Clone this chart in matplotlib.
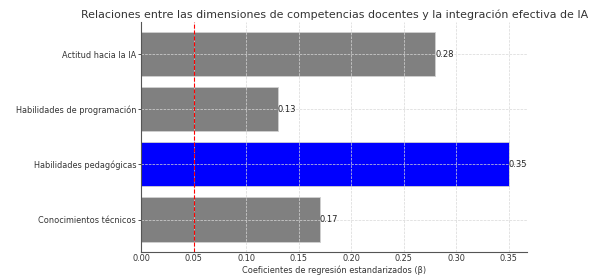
import matplotlib
matplotlib.use("Agg")
import matplotlib.pyplot as plt

categories = ["Conocimientos técnicos", "Habilidades pedagógicas",
              "Habilidades de programación", "Actitud hacia la IA"]
values = [0.17, 0.35, 0.13, 0.28]
colors = ["gray", "blue", "gray", "gray"]
threshold = 0.05
xticks = [0.00, 0.05, 0.10, 0.15, 0.20, 0.25, 0.30, 0.35]

plt.rcParams['font.family'] = ['DejaVu Sans']
fig = plt.figure(figsize=(5.95, 2.78), dpi=100)
ax = fig.add_axes([0.237, 0.0935, 0.649, 0.828])

bars = ax.barh(categories, values, color=colors, edgecolor="#d0d0d0", linewidth=0.6)
ax.axvline(threshold, color="red", linestyle="--", linewidth=0.8)

for b, v in zip(bars, values):
    ax.text(b.get_width(), b.get_y() + b.get_height() / 2, f"{v:.2f}",
            va="center", ha="left", fontsize=6.0, color="#222222")

ax.set_xticks(xticks)
ax.set_xticklabels([f"{t:.2f}" for t in xticks])
ax.tick_params(axis="both", labelsize=5.9, colors="#333333", width=0.6)
ax.tick_params(axis="x", length=0, pad=1.5)
ax.tick_params(axis="y", length=2, pad=1.5)
ax.set_xlabel("Coeficientes de regresión estandarizados (β)", fontsize=5.9, color="#333333", labelpad=1.5)
ax.set_title("Relaciones entre las dimensiones de competencias docentes y la integración efectiva de IA",
             fontsize=7.9, color="#333333", pad=2.5)

ax.grid(True, linestyle="--", linewidth=0.5, color="#d8d8d8")
for s in ["top", "right"]:
    ax.spines[s].set_visible(False)
for s in ["left", "bottom"]:
    ax.spines[s].set_color("#555555")
    ax.spines[s].set_linewidth(0.8)

fig.savefig("out.png", dpi=100)
